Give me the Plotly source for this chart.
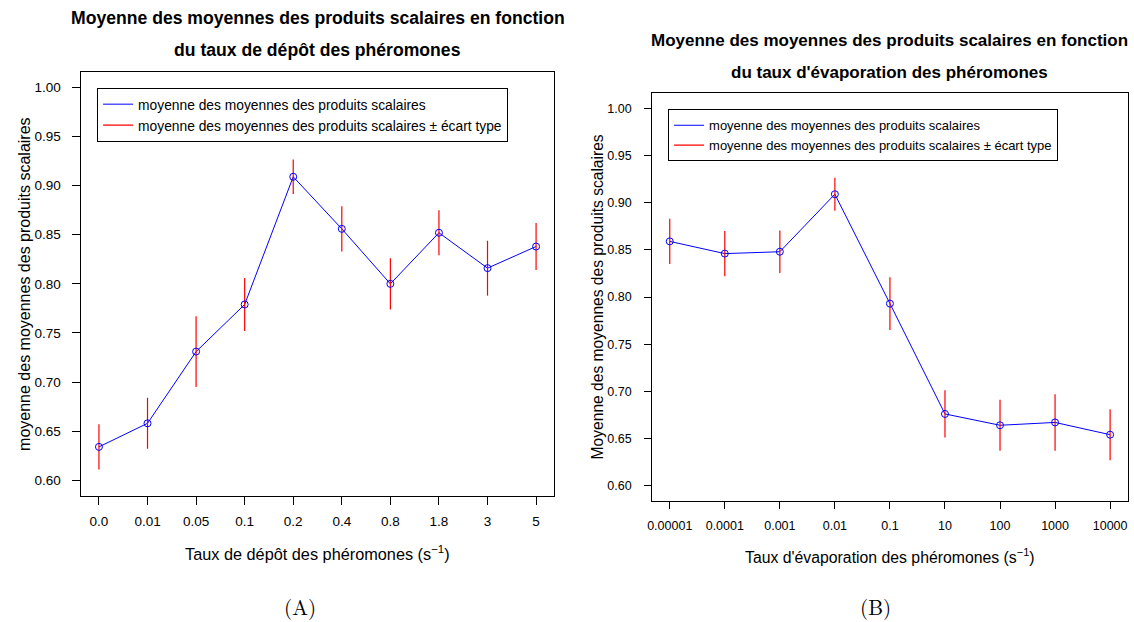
import plotly.graph_objects as go

# Panel A: pheromone deposit rate
depot_labels = ["0.0", "0.01", "0.05", "0.1", "0.2", "0.4", "0.8", "1.8", "3", "5"]
depot_mean = [0.634, 0.658, 0.731, 0.779, 0.909, 0.856, 0.800, 0.852, 0.816, 0.838]
depot_sd = [0.023, 0.026, 0.036, 0.027, 0.0175, 0.023, 0.026, 0.023, 0.028, 0.024]

# Panel B: pheromone evaporation rate
evap_labels = ["0.00001", "0.0001", "0.001", "0.01", "0.1", "10", "100", "1000", "10000"]
evap_mean = [0.859, 0.846, 0.848, 0.909, 0.793, 0.676, 0.664, 0.667, 0.654]
evap_sd = [0.024, 0.024, 0.0225, 0.0175, 0.028, 0.025, 0.027, 0.030, 0.027]

y_ticks = [0.60, 0.65, 0.70, 0.75, 0.80, 0.85, 0.90, 0.95, 1.00]

LEG_MEAN = "moyenne des moyennes des produits scalaires"
LEG_SD = "moyenne des moyennes des produits scalaires ± écart type"

W, H = 1134, 622
SANS = "Liberation Sans, Arial, Helvetica, sans-serif"
SERIF = "Latin Modern Roman, DejaVu Serif, Liberation Serif, serif"
BLUE = "#0000ff"
RED = "#ff0000"


def fx(px):
    return px / W


def fy(px):
    return 1 - px / H


def segments(means, sds):
    xs, ys = [], []
    for i, (m, s) in enumerate(zip(means, sds)):
        xs += [i, i, None]
        ys += [m - s, m + s, None]
    return xs, ys


fig = go.Figure()


def add_panel(means, sds, xa, ya, legend):
    idx = list(range(len(means)))
    fig.add_trace(go.Scatter(
        x=idx, y=means, mode="lines", name=LEG_MEAN,
        line=dict(color=BLUE, width=1), xaxis=xa, yaxis=ya, legend=legend,
        hoverinfo="skip"))
    ex, ey = segments(means, sds)
    fig.add_trace(go.Scatter(
        x=ex, y=ey, mode="lines", name=LEG_SD,
        line=dict(color=RED, width=1.2), xaxis=xa, yaxis=ya, legend=legend,
        hoverinfo="skip"))
    fig.add_trace(go.Scatter(
        x=idx, y=means, mode="markers", showlegend=False,
        marker=dict(symbol="circle-open", size=7, color=BLUE, line=dict(width=1)),
        xaxis=xa, yaxis=ya))


add_panel(depot_mean, depot_sd, "x", "y", "legend")
add_panel(evap_mean, evap_sd, "x2", "y2", "legend2")

axis_common = dict(
    showline=True, mirror=True, linecolor="black", linewidth=1,
    ticks="outside", tickwidth=1, tickcolor="black",
    showgrid=False, zeroline=False, fixedrange=True,
)

n1 = len(depot_labels) - 1
n2 = len(evap_labels) - 1
yr = [0.60 - 0.016, 1.00 + 0.016]

fig.update_layout(
    width=W, height=H,
    margin=dict(l=0, r=0, t=0, b=0),
    paper_bgcolor="white", plot_bgcolor="white",
    font=dict(family=SANS, color="black"),
    xaxis=dict(domain=[fx(76.8), fx(551)], range=[-0.04 * n1, n1 * 1.04],
               tickvals=list(range(len(depot_labels))), ticktext=depot_labels,
               tickfont=dict(size=13.5), ticklen=8, ticklabelstandoff=5, anchor="y",
               **axis_common),
    yaxis=dict(domain=[fy(496), fy(71.7)], range=yr,
               tickvals=y_ticks, ticktext=[f"{v:.2f}" for v in y_ticks],
               tickfont=dict(size=13.5), ticklen=8, ticklabelstandoff=9, anchor="x",
               **axis_common),
    xaxis2=dict(domain=[fx(650), fx(1127.7)], range=[-0.04 * n2, n2 * 1.04],
                tickvals=list(range(len(evap_labels))), ticktext=evap_labels,
                tickfont=dict(size=12.5), ticklen=7, ticklabelstandoff=6, anchor="y2",
                **axis_common),
    yaxis2=dict(domain=[fy(500.7), fy(93.3)], range=yr,
                tickvals=y_ticks, ticktext=[f"{v:.2f}" for v in y_ticks],
                tickfont=dict(size=12.5), ticklen=7, ticklabelstandoff=10, anchor="x2",
                **axis_common),
    legend=dict(x=fx(92.5), y=fy(87.7), xanchor="left", yanchor="top",
                bgcolor="white", bordercolor="black", borderwidth=1,
                font=dict(size=13.8), tracegroupgap=0),
    legend2=dict(x=fx(666), y=fy(109.3), xanchor="left", yanchor="top",
                 bgcolor="white", bordercolor="black", borderwidth=1,
                 font=dict(size=13), tracegroupgap=0),
    showlegend=True,
)


def text(x, y, s, size, bold=False, angle=0, family=SANS):
    fig.add_annotation(
        x=fx(x), y=fy(y), xref="paper", yref="paper", text=f"<b>{s}</b>" if bold else s,
        showarrow=False, xanchor="center", yanchor="middle", textangle=angle,
        font=dict(family=family, size=size, color="black"))


# Titles
text(314, 18.3, "Moyenne des moyennes des produits scalaires en fonction", 17.6, bold=True)
text(314, 50, "du taux de dépôt des phéromones", 17.6, bold=True)
text(888.8, 40.7, "Moyenne des moyennes des produits scalaires en fonction", 17, bold=True)
text(888.8, 72.7, "du taux d'évaporation des phéromones", 17, bold=True)

# Axis titles
text(314, 553, "Taux de dépôt des phéromones (s<sup>−1</sup>)", 16.3)
text(19, 284, "moyenne des moyennes des produits scalaires", 16, angle=-90)
text(888.8, 556, "Taux d'évaporation des phéromones (s<sup>−1</sup>)", 15.8)
text(595, 297, "Moyenne des moyennes des produits scalaires", 15.6, angle=-90)

# Panel captions
text(296, 606, "(A)", 21, family=SERIF)
text(874, 606, "(B)", 21, family=SERIF)

fig.write_html("out.html", config={"displayModeBar": False})
